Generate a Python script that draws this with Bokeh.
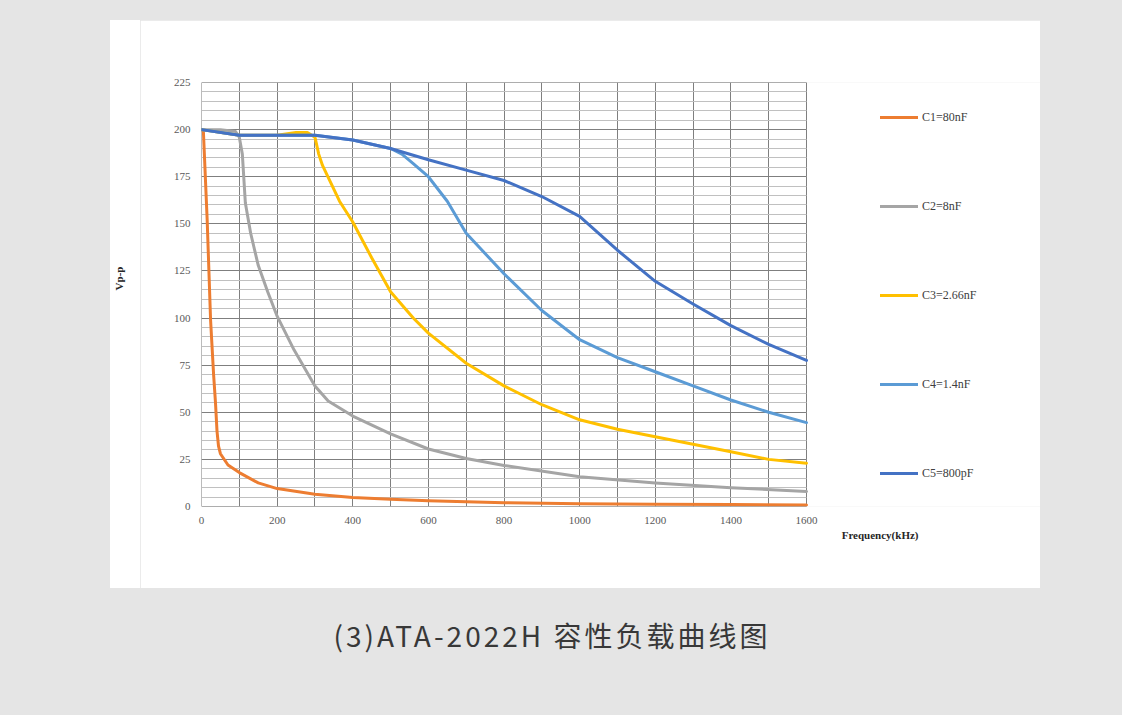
import math
from bokeh.plotting import figure
from bokeh.models import Range1d, FixedTicker, Legend, LegendItem, Title, Div
from bokeh.layouts import column, row
from bokeh.embed import file_html
from bokeh.resources import INLINE

# ---- data ----
series_names = ["C1=80nF", "C2=8nF", "C3=2.66nF", "C4=1.4nF", "C5=800pF"]
series_colors = ["#ED7D31", "#A5A5A5", "#FFC000", "#5B9BD5", "#4472C4"]

c1_freq = [0, 5, 15, 24, 32, 37, 41, 45, 50, 70, 100, 150, 200, 300, 400, 500, 600, 800, 1000, 1200, 1400, 1600]
c1_vpp = [200, 199, 152, 99, 70, 55, 40, 32, 28, 22, 18, 12.5, 9.5, 6.5, 4.8, 3.8, 3.0, 2.0, 1.5, 1.2, 1.0, 0.8]

c2_freq = [0, 50, 90, 100, 108, 116, 130, 150, 175, 200, 245, 300, 335, 400, 500, 600, 700, 800, 1000, 1200, 1400, 1600]
c2_vpp = [200, 200, 199, 196, 187, 161, 145, 128, 114, 101, 83, 64, 56, 48, 38.5, 30.5, 25.5, 21.8, 15.8, 12.5, 10, 8]

c3_freq = [0, 100, 200, 250, 280, 300, 310, 320, 365, 400, 450, 500, 560, 600, 700, 800, 900, 1000, 1100, 1200, 1300, 1400, 1500, 1600]
c3_vpp = [200, 197, 197, 198.5, 198.5, 196, 187, 181, 162, 151, 132, 114, 100, 92, 76, 64, 54, 46, 41, 37, 33, 29, 25, 23]

c4_freq = [0, 100, 200, 300, 400, 500, 530, 560, 600, 650, 700, 800, 900, 1000, 1100, 1200, 1300, 1400, 1500, 1600]
c4_vpp = [200, 197, 197, 197, 194.5, 190, 187, 182, 175, 162, 145, 123.5, 104, 88.5, 79, 71.5, 64, 56.5, 50, 44.5]

c5_freq = [0, 100, 200, 300, 400, 500, 600, 700, 800, 900, 1000, 1100, 1200, 1300, 1400, 1500, 1600]
c5_vpp = [200, 197, 197, 197, 194.5, 190, 184, 178.5, 173, 164.5, 154, 136, 119.5, 107.5, 96, 86, 77.5]

x_ticks = [0, 200, 400, 600, 800, 1000, 1200, 1400, 1600]
x_grid = list(range(0, 1601, 100))
y_ticks = [0, 25, 50, 75, 100, 125, 150, 175, 200, 225]
y_minor = list(range(0, 226, 5))

x_title = "Frequency(kHz)"
y_title = "Vp-p"
caption = "(3)ATA-2022H 容性负载曲线图"

# ---- layout geometry (pixels) ----
LABEL_W = 30                                    # strip holding the rotated y title
CARD_H = 568
FIG_W = 930 - LABEL_W
FRAME_LEFT, FRAME_TOP, FRAME_BOTTOM = 61, 62, 82
PLOT_PX = 605                                   # width of the gridded area
frame_px = FIG_W - FRAME_LEFT                   # frame extends to the card's right edge
X_MAX = 1600.0
x_end = X_MAX * frame_px / PLOT_PX              # room on the right for the legend

p = figure(width=FIG_W, height=CARD_H,
           x_range=Range1d(-0.01, x_end), y_range=Range1d(-0.01, 225.01),
           output_backend="svg", toolbar_location=None,
           min_border_left=FRAME_LEFT, min_border_right=0,
           min_border_top=FRAME_TOP, min_border_bottom=FRAME_BOTTOM,
           border_fill_color="white", background_fill_color="white",
           outline_line_color=None)
p.margin = (20, 0, 0, 0)
p.styles = {"box-shadow": "-3px 0 0 0 white"}

serif = "Liberation Serif"
p.xaxis.ticker = FixedTicker(ticks=x_ticks)
p.yaxis.ticker = FixedTicker(ticks=y_ticks, minor_ticks=y_minor)
for ax in (p.xaxis, p.yaxis):
    ax.axis_line_color = None
    ax.major_tick_line_color = None
    ax.minor_tick_line_color = None
    ax.major_label_text_font = serif
    ax.major_label_text_font_size = "11px"
    ax.major_label_text_color = "#595959"
p.xaxis.major_label_standoff = 4
p.yaxis.major_label_standoff = 5

p.xgrid.ticker = FixedTicker(ticks=x_grid)
p.xgrid.grid_line_color = "#7f7f7f"
p.ygrid.grid_line_color = "#7f7f7f"
p.ygrid.minor_grid_line_color = "#c0c0c0"
p.ygrid.cross_bounds = (0, X_MAX)
p.xgrid.cross_bounds = (0, 225)

freqs = [c1_freq, c2_freq, c3_freq, c4_freq, c5_freq]
vals = [c1_vpp, c2_vpp, c3_vpp, c4_vpp, c5_vpp]
items = []
for name, col, fx, vy in zip(series_names, series_colors, freqs, vals):
    r = p.line(fx, vy, line_color=col, line_width=3, line_join="round", line_cap="round")
    items.append(LegendItem(label=name, renderers=[r]))

legend = Legend(items=items, location=(679, 23), orientation="vertical",
                spacing=69, glyph_width=38, glyph_height=20, label_height=20,
                padding=0, margin=0, border_line_color=None, background_fill_alpha=0,
                label_text_font=serif, label_text_font_size="12px",
                label_text_color="#404040", label_standoff=4)
p.add_layout(legend, "center")

p.add_layout(Title(text=x_title, align="right", offset=122, standoff=0,
                   text_font=serif, text_font_size="11px", text_font_style="bold",
                   text_color="#262626"), "below")

ylab = Div(text=('<span style="display:inline-block;transform:rotate(-90deg);'
                 "font-family:'Liberation Serif',serif;font-size:11px;font-weight:bold;"
                 'color:#262626;line-height:13px;white-space:nowrap;margin-left:-2px;">'
                 + y_title + '</span>'),
           width=LABEL_W, height=CARD_H,
           styles={"background-color": "white", "padding-top": "250px",
                   "box-sizing": "border-box", "overflow": "hidden"})
ylab.margin = (20, 0, 0, 110)

title = Div(text=caption, width=1122, height=127,
            styles={"font-family": "'Noto Sans CJK SC', 'Noto Sans', sans-serif",
                    "font-size": "28px", "letter-spacing": "3px", "color": "#383838",
                    "text-align": "center", "padding-top": "22px", "padding-right": "28px",
                    "box-sizing": "border-box"})

layout = column(row(ylab, p, spacing=0), title, width=1122, height=715, spacing=0,
                styles={"background-color": "#e5e5e5"})

open("out.html", "w").write(file_html(layout, INLINE))
